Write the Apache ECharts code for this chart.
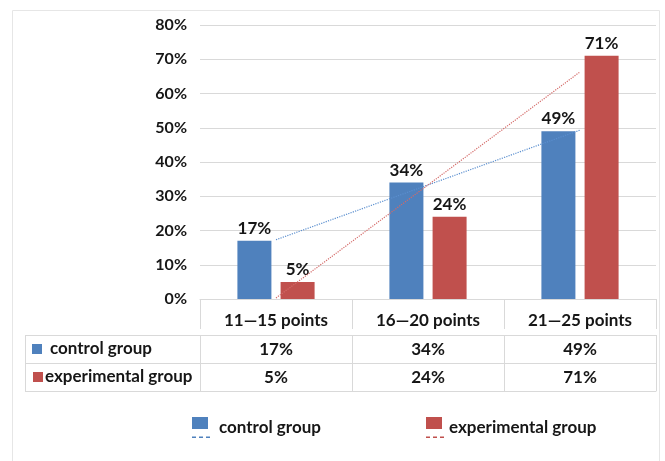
<!DOCTYPE html>
<html>
<head>
<meta charset="utf-8">
<title>Score distribution: control vs experimental group</title>
<script src="https://cdn.jsdelivr.net/npm/echarts@6/dist/echarts.min.js"></script>
<style>
  html, body { margin: 0; padding: 0; background: #ffffff; }
  #chart { width: 665px; height: 461px; }
</style>
</head>
<body>
<div id="chart"></div>
<script>
// Score bands on the x axis
const categories = ['11—15 points', '16—20 points', '21—25 points'];
// Share of students in each band (%)
const controlGroup = [17, 34, 49];
const experimentalGroup = [5, 24, 71];
// Linear trendlines through each group, at the band centres (%)
const controlTrend = [17.3, 33.3, 49.3];
const experimentalTrend = [0.3, 33.3, 66.3];
// Value axis range and step (%)
const yMin = 0, yMax = 80, yStep = 10;

const seriesNames = ['control group', 'experimental group'];
const BLUE = '#4f81bd';
const RED = '#c0504d';
const TEXT = '#161616';
const LINE = '#d9d9d9';
const FONT = 'Lato, "Noto Sans", sans-serif';

const pct = v => v + '%';

// One bottom x axis per data-table row; ticks at the band edges draw the cell borders
function tableRow(data, offset, height, margin, showLabel) {
  return {
    type: 'category', gridIndex: 0, position: 'bottom', offset: offset,
    data: data,
    axisLine: { show: true, lineStyle: { color: LINE, width: 1 } },
    axisTick: { show: height > 0, interval: 0, length: height, alignWithLabel: false,
      lineStyle: { color: LINE, width: 1 } },
    axisLabel: { show: showLabel, interval: 0, margin: margin, color: TEXT,
      fontFamily: FONT, fontWeight: 'bold', fontSize: 17 },
    splitLine: { show: false }
  };
}

const legendIcon = 'path://M0,0H16V12H0Z M0,19.5H4V21H0Z M7,19.5H11V21H7Z M14,19.5H18V21H14Z';

const option = {
  backgroundColor: '#ffffff',
  animation: false,
  grid: { left: 200, right: 9, top: 25, bottom: 162, containLabel: false },
  xAxis: [
    tableRow(categories, 6, 30, 7, true),
    tableRow(controlGroup.map(pct), 36, 28, 6, true),
    tableRow(experimentalGroup.map(pct), 64, 28, 6, true),
    tableRow(categories, 92, 0, 0, false)
  ],
  yAxis: {
    type: 'value', min: yMin, max: yMax, interval: yStep,
    axisLine: { show: false }, axisTick: { show: false },
    axisLabel: { formatter: '{value}%', margin: 13, color: TEXT,
      fontFamily: FONT, fontWeight: 'bold', fontSize: 16 },
    splitLine: { lineStyle: { color: LINE, width: 1 } }
  },
  legend: [
    { data: [seriesNames[0]], left: 192, top: 417, padding: 0,
      icon: legendIcon, itemWidth: 18, itemHeight: 21,
      textStyle: { color: TEXT, fontFamily: FONT, fontWeight: 'bold', fontSize: 17,
        padding: [0, 0, 6, 4] } },
    { data: [seriesNames[1]], left: 426, top: 417, padding: 0,
      icon: legendIcon, itemWidth: 18, itemHeight: 21,
      textStyle: { color: TEXT, fontFamily: FONT, fontWeight: 'bold', fontSize: 17,
        padding: [0, 0, 6, 0] } }
  ],
  series: [
    {
      name: seriesNames[0], type: 'bar', xAxisIndex: 0, data: controlGroup,
      barWidth: 34, barGap: '27%',
      itemStyle: { color: BLUE },
      label: { show: true, position: 'top', distance: 4, formatter: p => pct(p.value),
        color: TEXT, fontFamily: FONT, fontWeight: 'bold', fontSize: 17 }
    },
    {
      name: seriesNames[1], type: 'bar', xAxisIndex: 0, data: experimentalGroup,
      barWidth: 34, barGap: '27%',
      itemStyle: { color: RED },
      label: { show: true, position: 'top', distance: 4, formatter: p => pct(p.value),
        color: TEXT, fontFamily: FONT, fontWeight: 'bold', fontSize: 17 }
    },
    {
      name: 'Linear (control group)', type: 'line', xAxisIndex: 0, data: controlTrend,
      symbol: 'none', silent: true,
      lineStyle: { color: '#5b8fcf', width: 1.2, type: 'dotted' }
    },
    {
      name: 'Linear (experimental group)', type: 'line', xAxisIndex: 0, data: experimentalTrend,
      symbol: 'none', silent: true,
      lineStyle: { color: '#d46a68', width: 1.2, type: 'dotted' }
    }
  ],
  graphic: [
    // chart frame
    { type: 'rect', shape: { x: 12.5, y: 10.5, width: 647, height: 460 },
      style: { fill: 'none', stroke: '#e6e6e6', lineWidth: 1 }, silent: true },
    // row-header column of the data table
    { type: 'line', shape: { x1: 25, y1: 335.5, x2: 200, y2: 335.5 }, style: { stroke: LINE, lineWidth: 1 } },
    { type: 'line', shape: { x1: 25, y1: 363.5, x2: 200, y2: 363.5 }, style: { stroke: LINE, lineWidth: 1 } },
    { type: 'line', shape: { x1: 25, y1: 391.5, x2: 200, y2: 391.5 }, style: { stroke: LINE, lineWidth: 1 } },
    { type: 'line', shape: { x1: 25.5, y1: 335, x2: 25.5, y2: 392 }, style: { stroke: LINE, lineWidth: 1 } },
    { type: 'rect', shape: { x: 32, y: 344, width: 10, height: 10 }, style: { fill: BLUE } },
    { type: 'text', x: 50, y: 349,
      style: { text: seriesNames[0], fill: TEXT, font: 'bold 17px ' + FONT, textVerticalAlign: 'middle', verticalAlign: 'middle' } },
    { type: 'rect', shape: { x: 33, y: 372, width: 10, height: 10 }, style: { fill: RED } },
    { type: 'text', x: 45, y: 377,
      style: { text: seriesNames[1], fill: TEXT, font: 'bold 17px ' + FONT, textVerticalAlign: 'middle', verticalAlign: 'middle' } }
  ]
};

const chart = echarts.init(document.getElementById('chart'), null, { renderer: 'canvas' });
chart.setOption(option);
</script>
</body>
</html>
